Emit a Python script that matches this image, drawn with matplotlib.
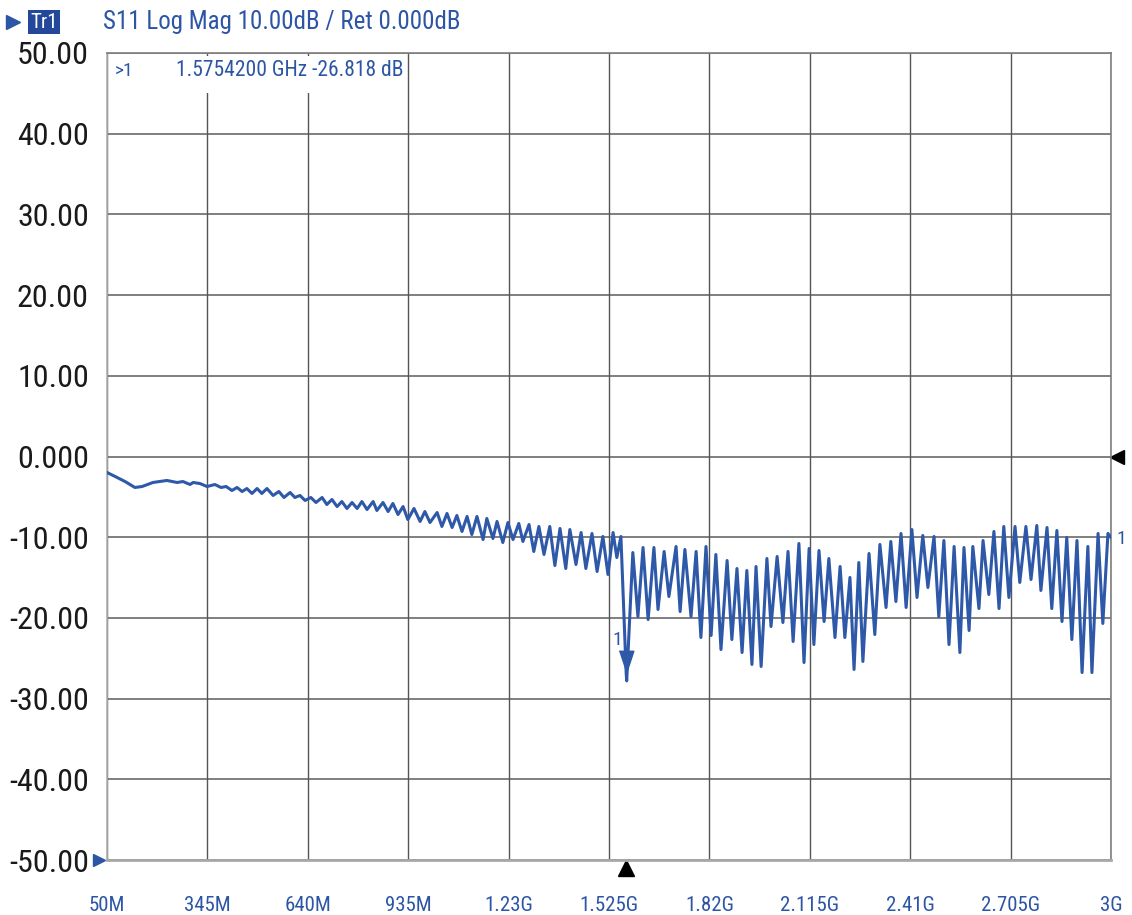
import matplotlib
matplotlib.use("Agg")
import matplotlib.pyplot as plt
from matplotlib import font_manager
from matplotlib.lines import Line2D
from matplotlib.patches import Rectangle

# S11 trace: frequency (MHz) and return loss (dB)
freq_mhz = [
    50, 74, 103, 132, 153, 185, 226, 256, 273, 294, 303, 323, 344, 367, 385, 400,
    417, 432, 447, 461, 476, 491, 505, 520, 538, 555, 570,
    588, 602, 617, 632, 649, 664, 682, 696, 711, 726, 740, 755, 770, 785, 799, 814,
    832, 843, 861, 876, 890, 905, 920, 934, 952, 970, 984, 999, 1020, 1034, 1049,
    1064, 1078, 1093, 1108, 1122, 1137, 1155, 1166,
    1184, 1196, 1213, 1228, 1243, 1260, 1272, 1290, 1304, 1319, 1334, 1351, 1366,
    1381, 1398, 1410, 1428, 1443, 1457, 1475, 1490, 1507, 1522, 1537, 1548, 1560,
    1575.42, 1577,
    1595, 1610, 1625, 1640, 1657, 1669, 1687, 1701, 1722, 1734, 1748, 1766, 1781,
    1795, 1810, 1825, 1839, 1854, 1872, 1886, 1901, 1916, 1930, 1945, 1957, 1972,
    1989, 2001, 2019, 2036, 2051,
    2066, 2083, 2098, 2113, 2127, 2142, 2157, 2171, 2189, 2204, 2218, 2233, 2245,
    2259, 2271, 2289, 2306, 2321, 2339, 2353, 2368, 2383, 2398, 2415, 2430, 2447,
    2462, 2480, 2494, 2509, 2524,
    2539, 2556, 2568, 2583, 2594, 2612, 2624, 2641, 2656, 2671, 2685, 2700, 2718,
    2732, 2750, 2765, 2782, 2794, 2812, 2826, 2841, 2856, 2870, 2885, 2900, 2915,
    2932, 2944, 2962, 2976, 2991, 3000,
]
s11_db = [
    -1.98, -2.48, -3.10, -3.84, -3.72, -3.22, -2.97, -3.22, -3.10, -3.47, -3.22,
    -3.35, -3.72, -3.47, -3.84, -3.72, -4.21, -3.84, -4.34, -3.97, -4.58, -3.97,
    -4.58, -3.97, -4.83, -4.34, -5.08,
    -4.46, -5.08, -4.83, -5.45, -5.08, -5.70, -5.08, -5.95, -5.33, -6.20, -5.58,
    -6.44, -5.70, -6.44, -5.58, -6.57, -5.58, -6.69, -5.70, -6.82, -5.82, -7.19,
    -6.20, -7.81, -6.44, -8.05, -6.82, -8.18, -6.94, -8.67, -7.06, -8.80, -7.31,
    -9.29, -7.43, -9.67, -7.43, -10.29, -7.68,
    -10.16, -8.05, -10.66, -8.18, -10.29, -8.30, -10.53, -8.43, -11.77, -8.67,
    -12.14, -8.67, -13.51, -8.92, -13.88, -9.05, -13.38, -9.42, -13.88, -9.54,
    -14.25, -9.91, -14.62, -9.42, -12.52, -9.91,
    -26.82, -27.8,
    -11.90, -19.83, -11.28, -20.20, -11.28, -18.96, -11.77, -17.35, -11.15, -19.21,
    -11.52, -19.83, -11.77, -22.43, -11.15, -22.18, -12.14, -23.92, -12.89, -22.68,
    -13.88, -24.29, -14.13, -25.77, -13.63, -26.02, -12.64, -21.07, -12.39, -20.57,
    -11.77,
    -22.92, -10.78, -25.53, -11.40, -23.30, -11.65, -20.45, -12.64, -22.43, -13.63,
    -22.43, -14.99, -26.39, -13.14, -25.40, -12.02, -22.06, -10.90, -18.71, -10.53,
    -17.97, -9.54, -18.71, -9.05, -17.47, -9.79, -16.23, -9.91, -19.83, -10.41,
    -23.30,
    -11.15, -24.29, -11.28, -21.56, -11.15, -18.84, -10.41, -17.10, -9.29, -18.84,
    -8.67, -17.47, -8.67, -15.61, -8.67, -15.24, -8.55, -16.60, -8.80, -18.84,
    -9.17, -20.45, -10.04, -22.68, -10.41, -26.77, -11.15, -26.77, -9.54, -20.69,
    -9.54, -10.04,
]

x_ticks = [50, 345, 640, 935, 1230, 1525, 1820, 2115, 2410, 2705, 3000]
x_labels = ["50M", "345M", "640M", "935M", "1.23G", "1.525G", "1.82G",
            "2.115G", "2.41G", "2.705G", "3G"]
y_ticks = [50, 40, 30, 20, 10, 0, -10, -20, -30, -40, -50]
y_labels = ["50.00", "40.00", "30.00", "20.00", "10.00", "0.000",
            "-10.00", "-20.00", "-30.00", "-40.00", "-50.00"]

marker_f = 1575.42
marker_db = -26.818

BLUE = "#2d55a6"

names = {f.name for f in font_manager.fontManager.ttflist}
narrow = next((n for n in ["Liberation Sans Narrow", "Roboto Condensed", "Lato"]
               if n in names), "DejaVu Sans")
plt.rcParams["font.family"] = [narrow, "DejaVu Sans"]

W, H = 1132, 915
fig = plt.figure(figsize=(W / 100, H / 100), dpi=100)
fig.patch.set_facecolor("white")
ax = fig.add_axes([107 / W, 1 - 860 / H, (1111 - 107) / W, (860 - 53) / H])

ax.set_xlim(50, 3000)
ax.set_ylim(-50, 50)
ax.set_xticks(x_ticks)
ax.set_xticklabels(x_labels, color=BLUE, fontsize=15)
ax.set_yticks(y_ticks)
ax.set_yticklabels(y_labels, color="#1a1a1a", fontsize=23)
ax.tick_params(axis="both", length=0)
ax.tick_params(axis="x", pad=26)
ax.tick_params(axis="y", pad=13)

for yv in y_ticks:
    ax.axhline(yv, color="#7f7f7f", lw=1.4, zorder=1)
for xv in x_ticks:
    ax.axvline(xv, color="#555555", lw=1.0, zorder=1)

for side in ["top", "right"]:
    ax.spines[side].set_color("#7f7f7f")
    ax.spines[side].set_linewidth(1.2)
ax.spines["left"].set_color("#b0b0b0")
ax.spines["left"].set_linewidth(1.2)
ax.spines["bottom"].set_color("#a8a8a8")
ax.spines["bottom"].set_linewidth(2.0)

# marker readout box (hides the grid behind it)
ax.add_patch(Rectangle((55, 45.1), 875, 4.5, facecolor="white", edgecolor="none",
                       zorder=2))
ax.text(0.008, 0.978, ">1", transform=ax.transAxes, color=BLUE, fontsize=14,
        va="center", zorder=3)
ax.text(0.069, 0.978, "1.5754200 GHz -26.818 dB", transform=ax.transAxes,
        color=BLUE, fontsize=15.5, va="center", zorder=3)

ax.plot(freq_mhz, s11_db, color="#2e58a8", lw=2.2, zorder=4,
        solid_joinstyle="round")

# marker 1 on the trace
ax.plot([marker_f], [marker_db], linestyle="none", color="#2e58a8", zorder=5,
        marker=[(-0.33, 1), (0.33, 1), (0, 0)], markersize=32)
ax.text(marker_f - 25, -22.7, "1", color=BLUE, fontsize=14, ha="center",
        va="center", zorder=5)
ax.text(1.01, -10.2, "1", transform=ax.get_yaxis_transform(), color=BLUE,
        fontsize=14, ha="center", va="center")

# screen indicators around the grid
ax.plot([marker_f], [-51.0], transform=ax.transData, marker="^", color="black",
        markersize=11, clip_on=False, linestyle="none")
ax.plot([1.006], [0], transform=ax.get_yaxis_transform(), marker="<",
        color="black", markersize=10, clip_on=False, linestyle="none")
ax.plot([-0.008], [-50], transform=ax.get_yaxis_transform(), marker=">",
        color=BLUE, markersize=9, clip_on=False, linestyle="none")

# header
fig.add_artist(Line2D([13 / W], [1 - 22 / H], marker=">", color=BLUE,
                      markersize=10, transform=fig.transFigure))
fig.text(44 / W, 1 - 22 / H, "Tr1", color="white", fontsize=15, ha="center",
         va="center", bbox=dict(facecolor="#23489a", edgecolor="none",
                                boxstyle="square,pad=0.12"))
fig.text(103 / W, 1 - 22 / H, "S11 Log Mag 10.00dB / Ret 0.000dB", color=BLUE,
         fontsize=18, ha="left", va="center")

fig.savefig("out.png", dpi=100, facecolor="white")
